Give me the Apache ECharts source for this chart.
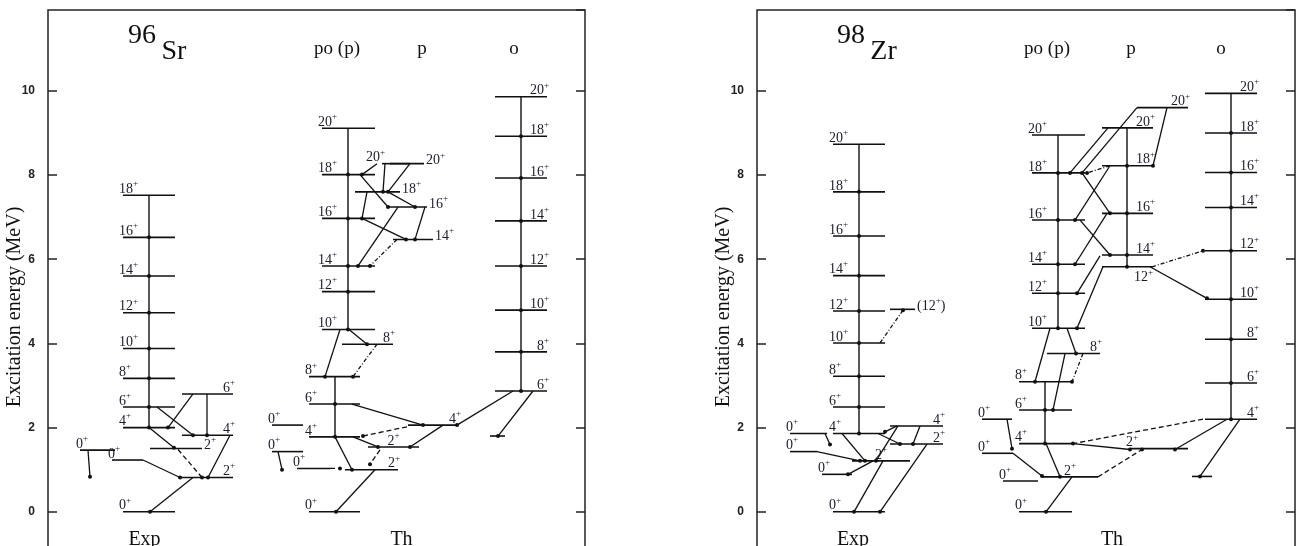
<!DOCTYPE html>
<html><head><meta charset="utf-8">
<script src="https://cdn.jsdelivr.net/npm/echarts@6/dist/echarts.min.js"></script>
<style>html,body{margin:0;padding:0;background:#fff;overflow:hidden}#c{width:1301px;height:546px}</style>
</head><body><div id="c"></div>
<script>
// ---------- data ----------
const yTickValues = [0, 2, 4, 6, 8, 10];
const yTickLabels = ['0', '2', '4', '6', '8', '10'];
const yName = 'Excitation energy (MeV)';

// levels: [xStart, xEnd, energy (MeV), spin label, label side]
const srLevels = [
  [75,127,0.00,'0+','L'],[75,127,2.00,'4+','L'],[75,127,2.49,'6+','L'],[75,127,3.17,'8+','L'],
  [75,127,3.88,'10+','L'],[75,127,4.73,'12+','L'],[75,127,5.60,'14+','L'],[75,127,6.52,'16+','L'],
  [75,127,7.52,'18+','L'],
  [32,67,1.465,'0+','L'],[64,95,1.23,'0+','L'],[102,154,1.505,'2+','E'],
  [132,185,0.815,'2+','R'],[134,185,1.82,'4+','R'],[134,185,2.80,'6+','R'],
  [274,327,9.11,'20+','L'],[274,327,8.01,'18+','L'],[274,327,6.97,'16+','L'],[274,327,5.84,'14+','L'],
  [274,327,5.23,'12+','L'],[274,327,4.33,'10+','L'],
  [294,345,3.98,'8+','R'],[261,312,3.21,'8+','L'],[261,312,2.56,'6+','L'],[261,312,1.78,'4+','L'],
  [261,312,0.00,'0+','L'],
  [224,255,2.06,'0+','L'],[224,255,1.43,'0+','L'],[249,282,1.03,'0+','L'],
  [297,350,1.00,'2+','R'],[320,371,1.54,'2+','C'],[360,411,2.06,'4+','R'],
  [334,362,8.27,'20+','A'],[342,376,8.27,'20+','E'],[307,352,7.60,'18+','E'],
  [340,379,7.24,'16+','E'],[345,385,6.47,'14+','E'],
  [447,499,2.87,'6+','R'],[447,499,3.80,'8+','R'],[447,499,4.79,'10+','R'],[447,499,5.84,'12+','R'],
  [447,499,6.91,'14+','R'],[447,499,7.93,'16+','R'],[447,499,8.92,'18+','R'],[447,499,9.86,'20+','R'],
  [442,457,1.80,'','']
];
// transitions: [xFrom, eFrom, xTo, eTo, kind]  s=solid d=dashed o=dash-dot
const srTrans = [
  [40,1.465,42,0.83,'s'],[95,1.23,132,0.815,'s'],[101,2.00,126,1.52,'s'],[130,1.48,154,0.815,'d'],
  [109,2.49,145,1.82,'s'],[145,2.80,120,2.00,'s'],[159,2.80,159,1.82,'s'],[182,1.82,160,0.815,'s'],
  [145,0.815,102,0.00,'s'],
  [329,8.27,314,8.01,'s'],[337,8.27,335,7.60,'s'],[362,8.27,340,7.60,'s'],[312,8.01,340,7.24,'s'],
  [340,7.60,367,7.24,'s'],[319,7.60,314,6.97,'s'],[350,7.24,310,5.84,'s'],[314,6.97,358,6.47,'s'],
  [377,7.24,367,6.47,'s'],[349,6.47,322,5.84,'o'],
  [292,4.33,277,3.21,'s'],[301,4.33,319,3.98,'s'],[329,3.98,305,3.21,'o'],[304,2.56,375,2.06,'s'],
  [395,2.06,362,1.54,'s'],[359,2.02,315,1.80,'d'],[305,1.78,330,1.54,'s'],[287,1.78,304,1.00,'s'],
  [332,1.47,322,1.13,'d'],[327,1.00,288,0.00,'s'],[282,1.03,292,1.03,'d'],[230,1.43,234,1.00,'s'],
  [465,2.87,409,2.06,'s'],[485,2.87,450,1.80,'s']
];
// bands: [x, energies of the levels the vertical cascade passes]
const srBands = [
  [101,[2.00,2.49,3.17,3.88,4.73,5.60,6.52,7.52]],
  [300,[4.33,5.23,5.84,6.97,8.01,9.11]],
  [287,[1.78,2.56,3.21]],
  [473,[2.87,3.80,4.79,5.84,6.91,7.93,8.92,9.86]]
];
const srTexts = [
  [94,11.31,'96','title'],[126,10.94,'Sr','title'],
  [289,10.99,'po (p)','head'],[374,10.99,'p','head'],[466,10.99,'o','head'],
  [96.5,-0.66,'Exp','foot'],[353.5,-0.66,'Th','foot']
];

const zrLevels = [
  [76,128,0.00,'0+','L'],[76,128,1.86,'4+','L'],[76,128,2.49,'6+','L'],[76,128,3.22,'8+','L'],
  [76,128,4.01,'10+','L'],[76,128,4.77,'12+','L'],[76,128,5.61,'14+','L'],[76,128,6.55,'16+','L'],
  [76,128,7.60,'18+','L'],[76,128,8.73,'20+','L'],
  [133,158,4.81,'(12+)','E'],
  [33,70,1.86,'0+','L'],[33,60,1.43,'0+','L'],[95,153,1.21,'2+','C'],[65,95,0.89,'0+','L'],
  [133,186,2.04,'4+','R'],[133,186,1.61,'2+','R'],
  [275,328,8.95,'20+','L'],[275,328,8.05,'18+','L'],[275,328,6.93,'16+','L'],[275,328,5.88,'14+','L'],
  [275,328,5.19,'12+','L'],[275,328,4.36,'10+','L'],
  [290,343,3.76,'8+','R'],[262,315,3.09,'8+','L'],[262,315,2.42,'6+','L'],[262,315,1.62,'4+','L'],
  [285,341,0.83,'2+','C'],[262,315,0.00,'0+','L'],
  [225,255,2.20,'0+','L'],[225,256,1.39,'0+','L'],[246,281,0.73,'0+','L'],
  [373,431,1.50,'2+','L'],
  [448,500,2.20,'4+','R'],[448,500,3.06,'6+','R'],[448,500,4.10,'8+','R'],[448,500,5.05,'10+','R'],
  [448,500,6.20,'12+','R'],[448,500,7.23,'14+','R'],[448,500,8.06,'16+','R'],[448,500,9.00,'18+','R'],
  [448,500,9.94,'20+','R'],
  [435,455,0.84,'',''],
  [345,396,9.12,'20+','R'],[345,396,8.22,'18+','R'],[345,396,7.09,'16+','R'],[345,396,6.10,'14+','R'],
  [345,396,5.82,'12+','B'],[380,431,9.60,'20+','R']
];
const zrTrans = [
  [123,4.01,146,4.79,'o'],[68,1.86,73,1.60,'s'],[60,1.43,103,1.21,'s'],[116,1.21,91,0.89,'s'],
  [85,1.86,108,1.21,'s'],[121,1.86,143,1.61,'s'],[140,2.04,128,1.90,'s'],[163,2.04,156,1.61,'s'],
  [141,2.04,119,1.21,'s'],[126,1.21,97,0.00,'s'],[170,1.61,123,0.00,'s'],
  [250,2.20,255,1.50,'s'],[256,1.39,285,0.85,'s'],
  [483,2.20,443,0.84,'s'],[470,2.20,418,1.48,'s'],[446,2.20,316,1.62,'d'],[316,1.62,373,1.48,'s'],
  [341,0.83,385,1.48,'d'],
  [410,9.60,396,8.22,'s'],[380,9.60,325,8.05,'s'],[351,9.12,313,8.05,'s'],[353,8.22,330,8.05,'o'],
  [325,8.05,353,7.09,'s'],[353,8.22,318,6.93,'s'],[323,6.93,353,6.10,'s'],[350,7.09,318,5.88,'s'],
  [343,6.08,320,5.19,'s'],[346,5.82,320,4.36,'s'],[393,5.82,450,5.07,'s'],[395,5.82,446,6.20,'o'],
  [293,4.36,278,3.09,'s'],[310,4.36,319,3.76,'s'],[326,3.76,315,3.09,'o'],[308,3.76,296,2.42,'s'],
  [289,1.62,303,0.83,'s'],[315,0.83,289,0.00,'s']
];
const zrBands = [
  [102,[1.86,2.49,3.22,4.01,4.77,5.61,6.55,7.60,8.73]],
  [301,[4.36,5.19,5.88,6.93,8.05,8.95]],
  [288,[1.62,2.42,3.09]],
  [474,[2.20,3.06,4.10,5.05,6.20,7.23,8.06,9.00,9.94]],
  [370,[5.82,6.10,7.09,8.22,9.12]]
];
const zrTexts = [
  [94,11.31,'98','title'],[126.5,10.94,'Zr','title'],
  [290,10.99,'po (p)','head'],[374,10.99,'p','head'],[464,10.99,'o','head'],
  [96,-0.66,'Exp','foot'],[355,-0.66,'Th','foot']
];

// ---------- styling / rendering ----------
const INK = '#111';
const LABEL_INK = '#1b1b2b';
const SERIF = '"Liberation Serif", "DejaVu Serif", serif';
const textSizes = { title: 28, head: 19, foot: 20 };
const dashes = { s: null, d: [5, 3], o: [4, 2, 1, 2] };

function richify(s) {
  return '{n|' + s.replace(/\+/g, '}{s|+}{n|') + '}';
}
const labelRich = {
  n: { fontSize: 14, fontFamily: SERIF, fill: LABEL_INK, lineHeight: 20, verticalAlign: 'middle' },
  s: { fontSize: 9, fontFamily: SERIF, fill: LABEL_INK, verticalAlign: 'top' }
};

function levelSeries(arr, gi) {
  return {
    type: 'custom', xAxisIndex: gi, yAxisIndex: gi * 2, silent: true, clip: false, z: 3,
    data: arr.map(d => [d[0], d[1], d[2]]),
    encode: { x: [0, 1], y: 2 },
    renderItem: function (params, api) {
      const d = arr[params.dataIndex];
      const p1 = api.coord([d[0], d[2]]), p2 = api.coord([d[1], d[2]]);
      const children = [{
        type: 'line', shape: { x1: p1[0], y1: p1[1], x2: p2[0], y2: p2[1] },
        style: { stroke: INK, lineWidth: 1.6 }
      }];
      if (d[3]) {
        let x, y = p1[1] - 6, align = 'left';
        switch (d[4]) {
          case 'L': x = p1[0] - 4; break;
          case 'R': x = p2[0] + 2; align = 'right'; break;
          case 'A': x = p1[0] + 3; align = 'right'; break;
          case 'E': x = p2[0] + 2; y = p1[1] - 3; break;
          case 'C': x = (p1[0] + p2[0]) / 2; align = 'center'; break;
          case 'B': x = p2[0]; align = 'right'; y = p1[1] + 11; break;
          default: x = p1[0];
        }
        children.push({
          type: 'text',
          style: { text: richify(d[3]), x: x, y: y, align: align, verticalAlign: 'middle', rich: labelRich }
        });
      }
      return { type: 'group', children: children };
    }
  };
}

function transSeries(arr, gi) {
  return {
    type: 'custom', xAxisIndex: gi, yAxisIndex: gi * 2, silent: true, clip: false, z: 4,
    data: arr.map(d => [d[0], d[1], d[2], d[3]]),
    encode: { x: [0, 2], y: [1, 3] },
    renderItem: function (params, api) {
      const d = arr[params.dataIndex];
      const a = api.coord([d[0], d[1]]), b = api.coord([d[2], d[3]]);
      return {
        type: 'group', children: [
          { type: 'line', shape: { x1: a[0], y1: a[1], x2: b[0], y2: b[1] },
            style: { stroke: INK, lineWidth: 1.3, lineDash: dashes[d[4]] } },
          { type: 'circle', shape: { cx: b[0], cy: b[1], r: 2 }, style: { fill: INK } }
        ]
      };
    }
  };
}

function bandSeries(arr, gi) {
  return {
    type: 'custom', xAxisIndex: gi, yAxisIndex: gi * 2, silent: true, clip: false, z: 4,
    data: arr.map(d => [d[0], Math.min.apply(null, d[1]), Math.max.apply(null, d[1])]),
    encode: { x: 0, y: [1, 2] },
    renderItem: function (params, api) {
      const d = arr[params.dataIndex];
      const es = d[1].slice().sort((u, v) => u - v);
      const lo = api.coord([d[0], es[0]]), hi = api.coord([d[0], es[es.length - 1]]);
      const children = [{ type: 'line', shape: { x1: lo[0], y1: lo[1], x2: hi[0], y2: hi[1] },
        style: { stroke: INK, lineWidth: 1.4 } }];
      es.slice(0, -1).forEach(e => {
        const p = api.coord([d[0], e]);
        children.push({ type: 'circle', shape: { cx: p[0], cy: p[1], r: 2 }, style: { fill: INK } });
      });
      return { type: 'group', children: children };
    }
  };
}

function textSeries(arr, gi) {
  return {
    type: 'custom', xAxisIndex: gi, yAxisIndex: gi * 2, silent: true, clip: false, z: 5,
    data: arr.map(d => [d[0], d[1]]),
    encode: { x: 0, y: 1 },
    renderItem: function (params, api) {
      const d = arr[params.dataIndex];
      const p = api.coord([d[0], d[1]]);
      return { type: 'text', style: { text: d[2], x: p[0], y: p[1], align: 'center', verticalAlign: 'middle',
        fontFamily: SERIF, fontSize: textSizes[d[3]], fill: '#111' } };
    }
  };
}

const grids = [
  { left: 48, top: 10, width: 537, height: 586 },
  { left: 757, top: 10, width: 538, height: 586 }
].map(g => Object.assign(g, { show: true, borderColor: '#222', borderWidth: 1.5, backgroundColor: 'transparent',
  containLabel: false, outerBoundsMode: 'none' }));

const xAxes = grids.map((g, i) => ({ gridIndex: i, type: 'value', min: 0, max: g.width, show: false }));
const yAxes = [];
grids.forEach((g, i) => {
  const base = {
    gridIndex: i, type: 'value', min: -2, max: 11.92, interval: 2,
    axisLine: { show: false }, splitLine: { show: false },
    axisTick: { show: true, inside: true, length: 9, lineStyle: { color: '#222', width: 1.5 } }
  };
  yAxes.push(Object.assign({}, base, {
    position: 'left',
    axisLabel: {
      margin: 13, fontFamily: '"Liberation Sans", Arial, sans-serif', fontWeight: 'bold', fontSize: 12, color: '#222',
      showMaxLabel: false,
      formatter: v => { const k = yTickValues.indexOf(v); return k >= 0 ? yTickLabels[k] : ''; }
    }
  }));
  yAxes.push(Object.assign({}, base, { position: 'right', axisLabel: { show: false } }));
});

// rotated axis titles, one per panel, placed beside each panel's left axis
const axisTitles = grids.map(g => ({
  type: 'text', x: g.left - 33, y: 307, rotation: Math.PI / 2, silent: true,
  style: { text: yName, align: 'center', verticalAlign: 'middle', fontFamily: SERIF, fontSize: 20, fill: '#111' }
}));

const series = [
  levelSeries(srLevels, 0), transSeries(srTrans, 0), bandSeries(srBands, 0), textSeries(srTexts, 0),
  levelSeries(zrLevels, 1), transSeries(zrTrans, 1), bandSeries(zrBands, 1), textSeries(zrTexts, 1)
];

const chart = echarts.init(document.getElementById('c'), null, { renderer: 'canvas' });
chart.setOption({
  backgroundColor: '#fff', animation: false,
  grid: grids, xAxis: xAxes, yAxis: yAxes, series: series, graphic: axisTitles
});
</script></body></html>
